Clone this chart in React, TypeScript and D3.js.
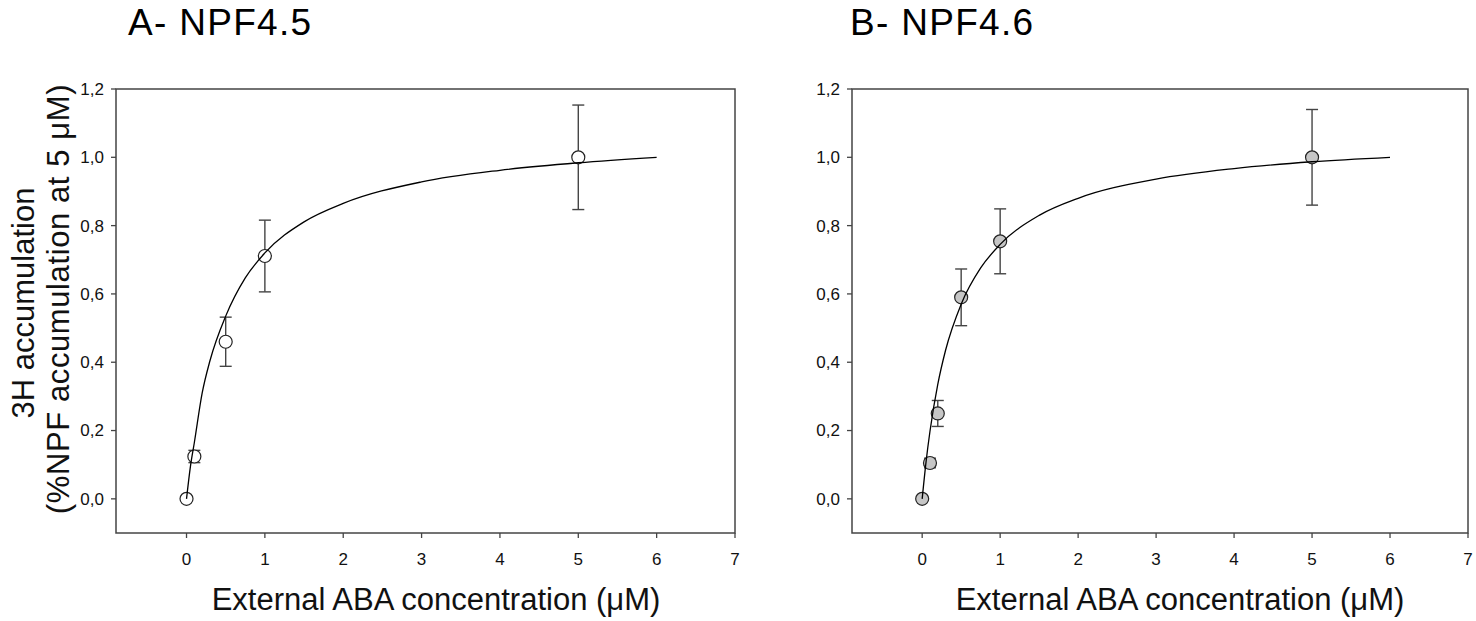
import * as d3 from 'd3'

// measured points: ABA concentration (µM) vs relative 3H accumulation
const concA = [0, 0.1, 0.5, 1, 5]
const accA = [0, 0.124, 0.46, 0.711, 1.0]
const errA = [0, 0.018, 0.072, 0.105, 0.153]

const concB = [0, 0.1, 0.2, 0.5, 1, 5]
const accB = [0, 0.105, 0.25, 0.59, 0.754, 1.0]
const errB = [0, 0.014, 0.038, 0.083, 0.095, 0.14]

// fitted saturation curves
const fitX = [0, 0.05, 0.1, 0.2, 0.3, 0.5, 0.75, 1, 1.5, 2, 3, 4, 5, 6]
const fitA = [0, 0.095, 0.165, 0.31, 0.405, 0.535, 0.647, 0.72, 0.811, 0.865, 0.928, 0.962, 0.984, 1.0]
const fitB = [0, 0.109, 0.198, 0.335, 0.435, 0.57, 0.676, 0.745, 0.83, 0.88, 0.936, 0.967, 0.987, 1.0]

const xTicks = [0, 1, 2, 3, 4, 5, 6, 7]
const yTicks = [0, 0.2, 0.4, 0.6, 0.8, 1.0, 1.2]

const FONT = "'Liberation Sans', Arial, Helvetica, sans-serif"
const fmtY = (v: number) => d3.format('.1f')(v).replace('.', ',')

interface PanelProps {
  title: string
  titleX: number
  left: number
  right: number
  conc: number[]
  acc: number[]
  err: number[]
  fit: number[]
  fill: string
  xLabelCenter: number
}

function Panel({ title, titleX, left, right, conc, acc, err, fit, fill, xLabelCenter }: PanelProps) {
  const top = 89
  const bottom = 533
  const x = d3.scaleLinear().domain([-0.9, 7]).range([left, right])
  const y = d3.scaleLinear().domain([-0.1, 1.2]).range([bottom, top])

  const line = d3.line<number>()
    .x((_, i) => x(fitX[i]))
    .y(d => y(d))
    .curve(d3.curveMonotoneX)

  const cap = 6
  return (
    <g>
      <text x={titleX} y={35} fontSize={37} letterSpacing={1.3} fontFamily={FONT} fill="#000">{title}</text>

      <rect x={left} y={top} width={right - left} height={bottom - top} fill="none" stroke="#444" strokeWidth={1.5} />

      {yTicks.map(t => (
        <g key={'y' + t}>
          <line x1={left - 5} x2={left} y1={y(t)} y2={y(t)} stroke="#444" strokeWidth={1.3} />
          <text x={left - 12} y={y(t)} dy="0.35em" textAnchor="end" fontSize={17} fontFamily={FONT} fill="#111">{fmtY(t)}</text>
        </g>
      ))}
      {xTicks.map(t => (
        <g key={'x' + t}>
          <line x1={x(t)} x2={x(t)} y1={bottom} y2={bottom + 5} stroke="#444" strokeWidth={1.3} />
          <text x={x(t)} y={565} textAnchor="middle" fontSize={17} fontFamily={FONT} fill="#111">{t}</text>
        </g>
      ))}

      <text x={xLabelCenter} y={610} textAnchor="middle" fontSize={31} fontFamily={FONT} fill="#111">
        External ABA concentration (μM)
      </text>

      {conc.map((c, i) => err[i] > 0 && (
        <g key={'e' + i} stroke="#444" strokeWidth={1.4}>
          <line x1={x(c)} x2={x(c)} y1={y(acc[i] - err[i])} y2={y(acc[i] + err[i])} />
          <line x1={x(c) - cap} x2={x(c) + cap} y1={y(acc[i] + err[i])} y2={y(acc[i] + err[i])} />
          <line x1={x(c) - cap} x2={x(c) + cap} y1={y(acc[i] - err[i])} y2={y(acc[i] - err[i])} />
        </g>
      ))}

      {conc.map((c, i) => (
        <circle key={'p' + i} cx={x(c)} cy={y(acc[i])} r={6.5} fill={fill} stroke="#222" strokeWidth={1.2} />
      ))}

      <path d={line(fit) || ''} fill="none" stroke="#000" strokeWidth={1.3} />
    </g>
  )
}

export default function App() {
  return (
    <svg width={1476} height={621} style={{ position: 'absolute', left: 0, top: 0, background: '#fff' }}>
      <g fontFamily={FONT} fontSize={31} fill="#111">
        <text transform="translate(34,303) rotate(-90)" textAnchor="middle">3H accumulation</text>
        <text transform="translate(69,299) rotate(-90)" textAnchor="middle" letterSpacing={0.6}>(%NPF accumulation at 5 μM)</text>
      </g>
      <Panel title="A- NPF4.5" titleX={128} left={116} right={735} conc={concA} acc={accA} err={errA} fit={fitA} fill="#fff" xLabelCenter={436} />
      <Panel title="B- NPF4.6" titleX={850} left={852} right={1468} conc={concB} acc={accB} err={errB} fit={fitB} fill="#c6c6c6" xLabelCenter={1180} />
    </svg>
  )
}
